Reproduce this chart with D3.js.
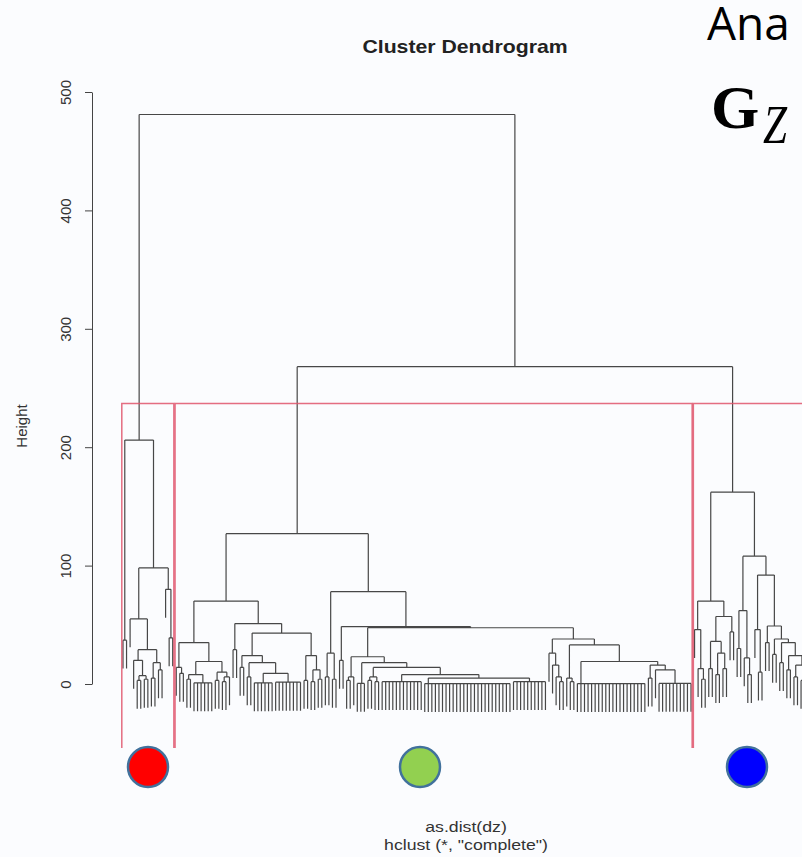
<!DOCTYPE html>
<html>
<head>
<meta charset="utf-8">
<title>Cluster Dendrogram</title>
<script src="https://cdn.jsdelivr.net/npm/d3@7"></script>
<style>
  body { margin: 0; background: #fbfcfe; }
  svg { display: block; }
</style>
</head>
<body>
<div id="plot"></div>
<script>
// ---- data ----
const yTicks = [0, 100, 200, 300, 400, 500];

// heights of the merges above the three clusters
const topNames = ["root", "green+blue", "green"];
const topHeights = [481, 268, 127];

// rect.hclust(k = 3) cuts between the 2nd and 3rd largest merge
const cutHeight = 237;

// sub-trees: (a,b)h = merge at height h, x = one leaf, cN = N tied leaves chained at ~0
const redTree = "((x,x)37,((x,((x,((x,x)3,(x,x)4)7)20,((x,x)5,(x,x)12)18)29)55,(x,(x,x)39)80)98)206";
const greenLeftTree = "(((x,(x,x)9)14,(((x,x)4,(x,x,x,x,x,x)1)8,((x,x)3,((x,x)2,x)6)10)19)35,((x,x)29,(((x,x)14,((x,x)6,((x,x,x,x,x,x)1,(x,x,x,x,x,x,x,x)1.5)9)18)24,((x,x)3,((x,x)2,(x,x)4)12)24)43)51)70";
const greenRightTree = "(((x,x)6,(x,x)4)26,((x,x)20,((((x,x)3,x)6,(((x,x)0.5,x)0.5,(((x,x)3,(x,x)2)6,((x,x,x,x,x,x,x,x,x,x,x,x)2,(c25,(x,x,x,x,x,x,x,x,x,x)2)5)8)14)18)23,((x,(x,(x,(x,x)2)6)16)26,((x,(x,x)2)5,(c20,((x,x)5,(x,(x,x,x,x,x,x,x,x,x,x)0.5)12)16)19)33)38)47.5)48.5)78";
const blueTree = "(((x,(x,(x,x)4)13)46,(((x,x)13,((x,x)8,(x,x)13)26)36,(x,x)44)57)70,(((x,x)30,(x,(x,x)8)22)62,((x,(x,x)10)46,((x,x)35,((x,x)25,((x,x)18,((x,x)12,((x,x)6,((x,x)3,(x,x,x,x)1)9)16)24)35)38)49)92)108)162";

const clusterNames = ["red", "green", "blue"];
const clusterFills = ["#ff0000", "#92d050", "#0000ff"];

const titleText = "Cluster Dendrogram";
const xLabel = "as.dist(dz)";
const subLabel = "hclust (*, \"complete\")";
const yLabel = "Height";

// ---- layout ----
const width = 802, height = 857;
const leafX0 = 123, leafStep = 3.55;
const hang = 24, chainHeight = 0.4, plotBottom = -54;
const discX = [148, 420, 747], discY = 767, discR = 20;
const textStretch = 1.18;

// tiny parser for the tree strings
function parseTree(str) {
    let i = 0;
    function num() {
        const m = /^\d+(\.\d+)?/.exec(str.slice(i));
        i += m[0].length;
        return +m[0];
    }
    function node() {
        if (str[i] === "x") { i++; return {}; }
        if (str[i] === "c") {
            i++;
            const n = num();
            let t = {};
            for (let k = 1; k < n; k++) t = { h: chainHeight, children: [{}, t] };
            return t;
        }
        i++; // "("
        const children = [node()];
        while (str[i] === ",") { i++; children.push(node()); }
        i++; // ")"
        return { h: num(), children };
    }
    return node();
}

const treeString = `(${redTree},((${greenLeftTree},${greenRightTree})${topHeights[2]},${blueTree})${topHeights[1]})${topHeights[0]}`;
const root = d3.hierarchy(parseTree(treeString));
const leaves = root.leaves();

const x = d3.scaleLinear()
    .domain([0, leaves.length - 1])
    .range([leafX0, leafX0 + leafStep * (leaves.length - 1)]);
const y = d3.scaleLinear().domain([0, 500]).range([684, 92]);

leaves.forEach((d, i) => { d.index = i; d.x = x(i); });
root.eachAfter(d => {
    if (d.children) d.x = (d.children[0].x + d.children[d.children.length - 1].x) / 2;
});

const svg = d3.select("#plot").append("svg")
    .attr("width", width)
    .attr("height", height)
    .style("font-family", "'Liberation Sans', Arial, sans-serif");

svg.append("rect").attr("width", width).attr("height", height).attr("fill", "#fbfcfe");

// dendrogram segments
let path = "";
root.each(d => {
    if (!d.children) return;
    const yy = y(d.data.h);
    const first = d.children[0].x, last = d.children[d.children.length - 1].x;
    path += `M${first},${yy}H${last}`;
    d.children.forEach(c => {
        const top = c.children ? c.data.h : d.data.h - hang;
        path += `M${c.x},${yy}V${y(top)}`;
    });
});
svg.append("path")
    .attr("d", path)
    .attr("fill", "none")
    .attr("stroke", "#474747")
    .attr("stroke-width", 1.2);

// cluster rectangles (bottom edge sits on the plot border and is clipped away)
const clusterNodes = [root.children[0], root.children[1].children[0], root.children[1].children[1]];
svg.selectAll("path.cluster")
    .data(clusterNodes)
    .enter()
    .append("path")
    .attr("class", "cluster")
    .attr("d", d => {
        const l = d.leaves();
        const x0 = x(l[0].index - 0.34), x1 = x(l[l.length - 1].index + 0.33);
        return `M${x0},${y(plotBottom)}V${y(cutHeight)}H${x1}V${y(plotBottom)}`;
    })
    .attr("fill", "none")
    .attr("stroke", "#df536b")
    .attr("stroke-opacity", 0.85)
    .attr("stroke-width", 1.5);

// y axis
const axisG = svg.append("g")
    .attr("transform", "translate(92,0)")
    .call(d3.axisLeft(y).tickValues(yTicks).tickSize(7).tickSizeOuter(0));
axisG.attr("font-size", 15).attr("font-family", null);
axisG.select(".domain").attr("stroke", "#444");
axisG.selectAll(".tick line").attr("stroke", "#444");
axisG.selectAll(".tick text")
    .attr("transform", "rotate(-90)")
    .attr("x", 0)
    .attr("y", -21)
    .attr("dy", null)
    .attr("text-anchor", "middle")
    .attr("fill", "#333");

svg.append("text")
    .attr("transform", "translate(27,426) rotate(-90)")
    .attr("text-anchor", "middle")
    .attr("font-size", 15)
    .attr("fill", "#333")
    .text(yLabel);

// titles
svg.append("text")
    .attr("transform", `translate(465,53) scale(${textStretch},1)`)
    .attr("text-anchor", "middle")
    .attr("font-size", 18)
    .attr("font-weight", "bold")
    .attr("fill", "#222")
    .text(titleText);

svg.append("text")
    .attr("transform", `translate(466,832) scale(${textStretch},1)`)
    .attr("text-anchor", "middle")
    .attr("font-size", 15)
    .attr("fill", "#333")
    .text(xLabel);

svg.append("text")
    .attr("transform", `translate(466,850) scale(${textStretch},1)`)
    .attr("text-anchor", "middle")
    .attr("font-size", 15)
    .attr("fill", "#333")
    .text(subLabel);

// coloured discs under each cluster
svg.selectAll("circle")
    .data(clusterNames)
    .enter()
    .append("circle")
    .attr("cx", (d, i) => discX[i])
    .attr("cy", discY)
    .attr("r", discR)
    .attr("fill", (d, i) => clusterFills[i])
    .attr("stroke", "#41719c")
    .attr("stroke-width", 2.5);

// slide text on the right
svg.append("text")
    .attr("x", 707)
    .attr("y", 40)
    .attr("font-family", "'Open Sans', sans-serif")
    .attr("font-size", 46)
    .attr("fill", "#000")
    .text("Ana");

svg.append("text")
    .attr("x", 711)
    .attr("y", 128)
    .attr("font-family", "'Liberation Serif', serif")
    .attr("font-weight", "bold")
    .attr("font-size", 62)
    .attr("fill", "#000")
    .text("G");

svg.append("text")
    .attr("transform", "translate(763,143) scale(0.8,1)")
    .attr("font-family", "'Liberation Serif', serif")
    .attr("font-style", "italic")
    .attr("font-size", 54)
    .attr("fill", "#000")
    .text("Z");
</script>
</body>
</html>
